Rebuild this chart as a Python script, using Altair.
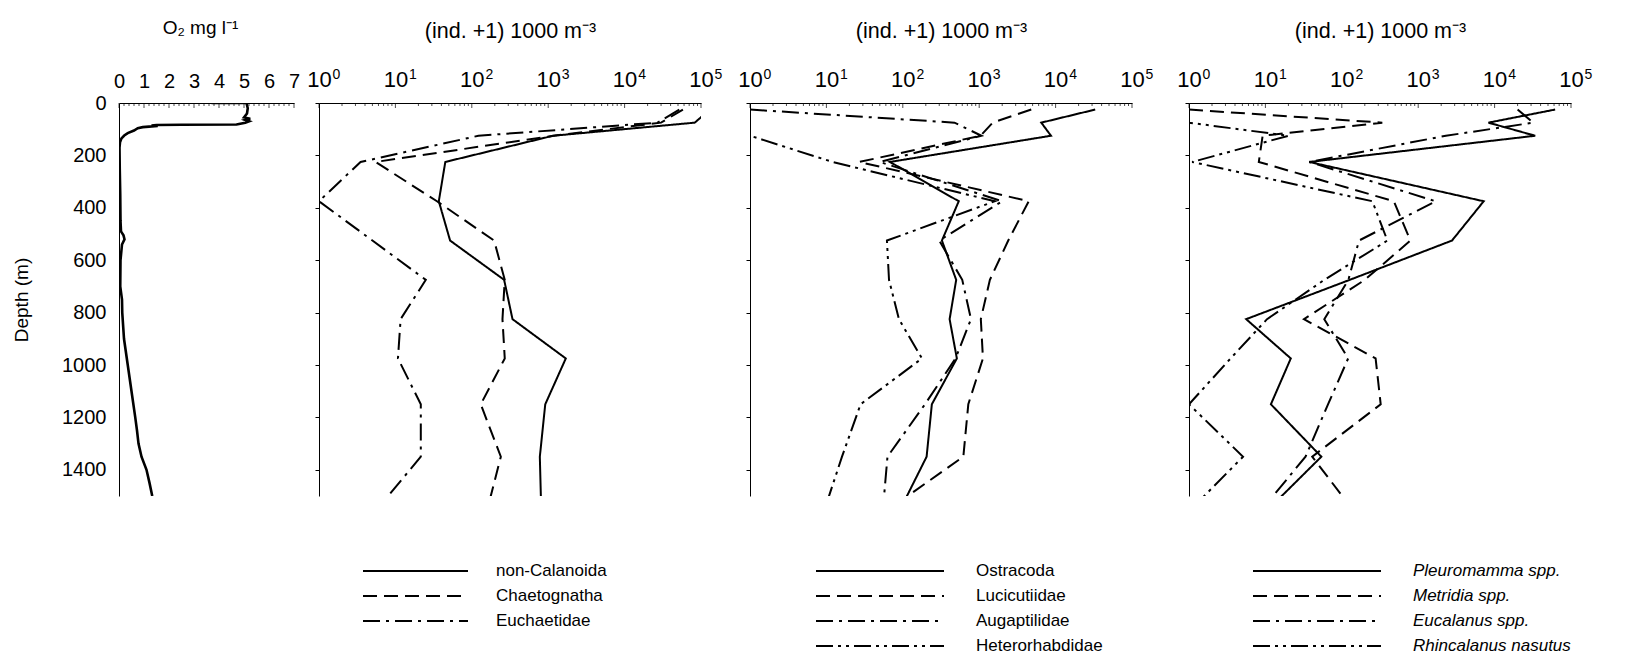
import altair as alt
import pandas as pd

FONT = "Liberation Sans"

# Mid-depths (m) of the sampled strata
DEPTHS = [25, 75, 125, 225, 375, 525, 675, 825, 975, 1150, 1350, 1550]

# Abundances, (ind. + 1) per 1000 m3
NON_CALANOIDA = [130000, 83000, 1160, 45, 37, 52, 265, 341, 1700, 915, 777, 810]
CHAETOGNATHA = [58000, 30000, 1170, 5.5, 35, 196, 270, 252, 270, 131, 240, 160]
EUCHAETIDAE = [52000, 27000, 122, 3.5, 1, 5, 25, 11.7, 10.8, 21.5, 21.5, 5.8]

OSTRACODA = [33000, 6500, 8700, 68, 540, 325, 500, 410, 510, 240, 205, 93]
LUCICUTIIDAE = [4800, 1500, 1040, 27, 4450, 2400, 1380, 1050, 1120, 720, 620, 66]
AUGAPTILIDAE = [1, 475, 1070, 50, 2000, 300, 600, 780, 490, 195, 63, 55]
HETERORHABDIDAE = [1, 1, 1, 12, 1600, 62, 66, 89, 178, 28, 16, 9.5]

PLEUROMAMMA = [62000, 8300, 34000, 37.5, 7200, 2770, 127, 5.6, 21.5, 11.8, 54, 11]
METRIDIA = [1, 339, 9.2, 8.2, 480, 790, 200, 32, 277, 323, 41, 137]
EUCALANUS = [20000, 32000, 2300, 37.5, 1690, 168, 122, 59, 121, 66, 33.5, 9.1]
RHINCALANUS = [1, 1, 20, 1.1, 251, 395, 59, 10.5, 3.5, 1, 5.1, 1.07]

# Oxygen profile
O2_DEPTH = [0, 0, 20, 40, 55, 60, 65, 70, 75, 80, 82, 83, 84, 86, 88, 90, 92, 96,
            105, 115, 124, 135, 150, 170, 250, 350, 450, 490, 505, 520, 540, 600,
            700, 750, 800, 900, 1000, 1100, 1200, 1250, 1300, 1350, 1400, 1450, 1500]
O2_MG_L = [3.7, 5.1, 5.15, 5.12, 5.0, 5.25, 5.05, 5.2, 5.05, 4.8, 4.7, 2.5, 1.5, 1.3,
           1.55, 1.2, 0.95, 0.75, 0.6, 0.35, 0.21, 0.1, 0.04, 0.02, 0.03, 0.05, 0.06,
           0.08, 0.18, 0.22, 0.12, 0.06, 0.05, 0.12, 0.13, 0.2, 0.35, 0.5, 0.65, 0.72,
           0.78, 0.9, 1.1, 1.22, 1.33]

DEPTH_TICKS = [0, 200, 400, 600, 800, 1000, 1200, 1400]
DECADES = [1, 10, 100, 1000, 10000, 100000]
DASHES = [[1, 0], [14, 7], [17, 6, 3, 6], [17, 5, 3, 5, 3, 5]]

W, H = 382, 393
TITLE_ABUND = "(ind. +1) 1000 m\u207b\u00b3"
LEG_R = 10          # half of the legend symbol box
LEG_ROW_PAD = 6


def depth_scale():
    return alt.Scale(domain=[0, 1500], reverse=True, nice=False, zero=False)


def legend_for(left, length, gap, italic):
    k = length / (2 * LEG_R)
    return alt.Legend(
        orient="none", legendX=left - LEG_R + length / 2, legendY=457, title=None,
        symbolType=f"M{-k},0H{k}", symbolSize=(2 * LEG_R) ** 2,
        symbolStrokeWidth=2, symbolStrokeColor="black", symbolFillColor="transparent",
        labelFont=FONT, labelFontSize=17, labelColor="black",
        labelOffset=length / 2 - LEG_R + gap, rowPadding=LEG_ROW_PAD, padding=0,
        labelFontStyle="italic" if italic else "normal", labelLimit=400)


def taxon_panel(names, series, leg_left, leg_len, leg_gap, italic=False):
    rows = []
    for name, vals in zip(names, series):
        for d, v in zip(DEPTHS, vals):
            rows.append({"taxon": name, "depth": d, "value": v})
    df = pd.DataFrame(rows)
    xscale = alt.Scale(type="log", domain=[1, 100000], nice=False)
    lines = alt.Chart(df).mark_line(clip=True, color="black", strokeWidth=2).encode(
        x=alt.X("value:Q", scale=xscale,
                axis=alt.Axis(orient="top", values=DECADES, labelExpr="'10'",
                              ticks=False, tickSize=0, labelPadding=12, labelFlush=False,
                              labelFontSize=22, title=TITLE_ABUND, titleFontSize=21.5,
                              titlePadding=26, titleFontWeight="normal")),
        y=alt.Y("depth:Q", scale=depth_scale(),
                axis=alt.Axis(values=DEPTH_TICKS, labels=False, title=None, tickSize=4)),
        strokeDash=alt.StrokeDash(
            "taxon:N",
            scale=alt.Scale(domain=names, range=DASHES[:len(names)]),
            legend=legend_for(leg_left, leg_len, leg_gap, italic)),
        order=alt.Order("depth:Q"),
    )
    minor = [m * 10 ** k for k in range(5) for m in range(2, 10)]
    minor_ticks = alt.Chart(pd.DataFrame({"value": minor})).mark_tick(
        color="black", thickness=1, size=3).encode(
        x=alt.X("value:Q", scale=xscale, axis=None), y=alt.value(1.5))
    # decade ticks carry the exponent labels of the top axis
    major_ticks = alt.Chart(pd.DataFrame({"value": DECADES})).mark_tick(
        color="black", thickness=1, size=5).encode(
        x=alt.X("value:Q", scale=xscale,
                axis=alt.Axis(orient="top", values=DECADES,
                              labelExpr="'' + round(log(datum.value) / LN10)",
                              domain=False, ticks=False, tickSize=0, labelPadding=22,
                              labelFlush=False, labelFontSize=14, labelOffset=17,
                              title=None)),
        y=alt.value(2.5))
    return alt.layer(lines, minor_ticks, major_ticks).resolve_axis(
        x="independent").properties(width=W, height=H)


# Oxygen panel
o2_df = pd.DataFrame({"depth": O2_DEPTH, "o2": O2_MG_L, "seq": range(len(O2_DEPTH))})
o2_scale = alt.Scale(domain=[0, 7], nice=False, zero=True)
o2_line = alt.Chart(o2_df).mark_line(color="black", strokeWidth=2.6, clip=True).encode(
    x=alt.X("o2:Q", scale=o2_scale,
            axis=alt.Axis(orient="top", values=list(range(8)), ticks=False, tickSize=0,
                          labelPadding=12, labelFontSize=20, labelOverlap=False,
                          labelFlush=False,
                          title="O\u2082 mg l\u207b\u00b9", titleFontSize=19, titleX=81,
                          titlePadding=34, titleFontWeight="normal")),
    y=alt.Y("depth:Q", scale=depth_scale(),
            axis=alt.Axis(values=DEPTH_TICKS, ticks=False, tickSize=0, labelPadding=13,
                          format="d", labelFontSize=20, title="Depth (m)", titleFontSize=19,
                          titleFontWeight="normal", titlePadding=30)),
    order=alt.Order("seq:Q"),
)
o2_minor = [i / 5 for i in range(36) if i % 5]
o2_major = list(range(8))
o2_ticks = []
for vals, size in ((o2_minor, 3), (o2_major, 5)):
    o2_ticks.append(
        alt.Chart(pd.DataFrame({"o2": vals})).mark_tick(color="black", thickness=1, size=size)
        .encode(x=alt.X("o2:Q", scale=o2_scale, axis=None), y=alt.value(size / 2)))
panel1 = alt.layer(o2_line, *o2_ticks).resolve_axis(x="independent").properties(
    width=175, height=H)

panel2 = taxon_panel(["non-Calanoida", "Chaetognatha", "Euchaetidae"],
                     [NON_CALANOIDA, CHAETOGNATHA, EUCHAETIDAE], 43, 105, 27)
panel3 = taxon_panel(["Ostracoda", "Lucicutiidae", "Augaptilidae", "Heterorhabdidae"],
                     [OSTRACODA, LUCICUTIIDAE, AUGAPTILIDAE, HETERORHABDIDAE], 65, 128, 31)
panel4 = taxon_panel(["Pleuromamma spp.", "Metridia spp.", "Eucalanus spp.", "Rhincalanus nasutus"],
                     [PLEUROMAMMA, METRIDIA, EUCALANUS, RHINCALANUS], 63, 128, 31, italic=True)

right = alt.hconcat(panel3, panel4, spacing=57, bounds="flush").resolve_scale(
    strokeDash="independent").resolve_legend(strokeDash="independent")
middle = alt.hconcat(panel2, right, spacing=49, bounds="flush").resolve_scale(
    strokeDash="independent").resolve_legend(strokeDash="independent")
chart = alt.hconcat(panel1, middle, spacing=25, bounds="flush").resolve_scale(
    strokeDash="independent").resolve_legend(strokeDash="independent")

chart = chart.properties(
    padding={"left": 12, "top": 18, "right": 5, "bottom": 5}
).configure_view(stroke=None).configure_axis(
    domainColor="black", domainWidth=1, tickColor="black", labelColor="black",
    titleColor="black", labelFont=FONT, titleFont=FONT, grid=False
)

chart.save("out.html", embed_options={"renderer": "svg", "actions": False})
